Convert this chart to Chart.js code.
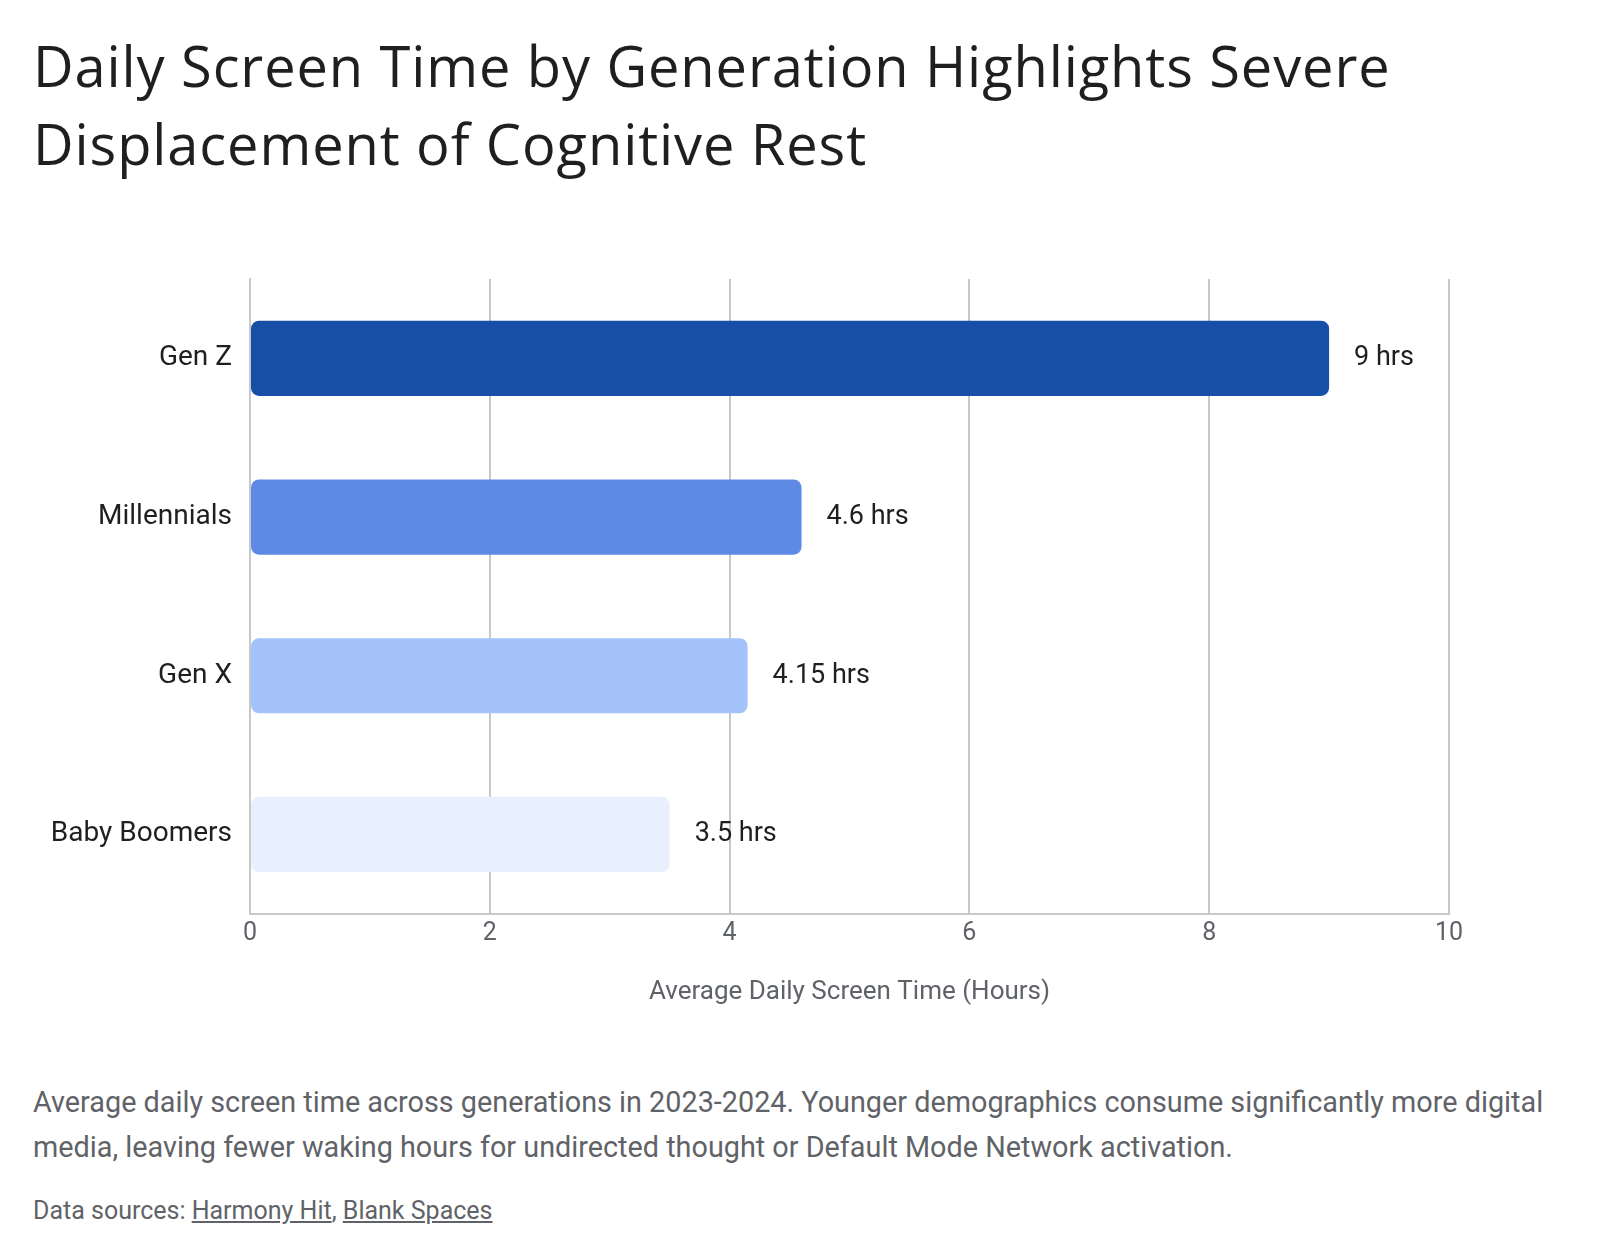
<!DOCTYPE html>
<html lang="en">
<head>
    <meta charset="UTF-8">
    <title>Daily Screen Time by Generation</title>
    <script src="https://cdn.jsdelivr.net/npm/chart.js"></script>
    <style>
        html, body { margin: 0; padding: 0; background: #fff; }
        body { width: 1600px; height: 1258px; position: relative; font-family: Roboto, "Noto Sans", sans-serif; }
        .title {
            position: absolute; left: 33px; top: 26px; margin: 0;
            font-family: "Open Sans", Roboto, sans-serif;
            font-size: 56px; line-height: 78px; font-weight: 400; letter-spacing: 0.9px; color: #1f1f1f;
        }
        .chart-box { position: absolute; left: 0; top: 240px; width: 1600px; height: 768px; }
        .caption {
            position: absolute; left: 33px; top: 1080px; width: 1560px; margin: 0;
            font-size: 28.8px; line-height: 45px; color: #5f6368;
        }
        .sources {
            position: absolute; left: 33px; top: 1195px; margin: 0;
            font-size: 25px; line-height: 32px; color: #5f6368;
        }
        .sources a { color: #5f6368; text-decoration: underline; }
    </style>
</head>
<body>
    <h1 class="title">Daily Screen Time by Generation Highlights Severe<br>Displacement of Cognitive Rest</h1>

    <div class="chart-box">
        <canvas id="screenChart"></canvas>
    </div>

    <p class="caption">Average daily screen time across generations in 2023-2024. Younger demographics consume significantly more digital<br>media, leaving fewer waking hours for undirected thought or Default Mode Network activation.</p>
    <p class="sources">Data sources: <a href="#">Harmony Hit</a>, <a href="#">Blank Spaces</a></p>

    <script>
        // chart data
        var generations = ['Gen Z', 'Millennials', 'Gen X', 'Baby Boomers'];
        var hours = [9, 4.6, 4.15, 3.5];
        var barColors = ['#174ea6', '#5e8ae6', '#a3c3fa', '#e8f0fe'];
        var xTicks = [0, 2, 4, 6, 8, 10];

        // value labels to the right of each bar
        var barLabels = {
            id: 'barLabels',
            afterDatasetsDraw: function (chart) {
                var ctx = chart.ctx;
                var meta = chart.getDatasetMeta(0);
                ctx.save();
                ctx.font = '27px Roboto';
                ctx.fillStyle = '#1f1f1f';
                ctx.textBaseline = 'middle';
                ctx.textAlign = 'left';
                meta.data.forEach(function (bar, i) {
                    ctx.fillText(hours[i] + ' hrs', bar.x + 25, bar.y);
                });
                ctx.restore();
            }
        };

        var ctx = document.getElementById('screenChart').getContext('2d');
        var screenChart = new Chart(ctx, {
            type: 'bar',
            data: {
                labels: generations,
                datasets: [{
                    data: hours,
                    backgroundColor: barColors,
                    borderRadius: 8,
                    borderSkipped: false,
                    barPercentage: 0.474,
                    categoryPercentage: 1
                }]
            },
            options: {
                indexAxis: 'y',
                responsive: true,
                maintainAspectRatio: false,
                animation: false,
                layout: { padding: { top: 39, right: 151, bottom: 0, left: 0 } },
                plugins: {
                    legend: { display: false },
                    tooltip: { enabled: false }
                },
                scales: {
                    x: {
                        min: 0,
                        max: 10,
                        afterBuildTicks: function (scale) {
                            scale.ticks = xTicks.map(function (v) { return { value: v }; });
                        },
                        grid: { color: '#c8c8c8', lineWidth: 2, drawTicks: false },
                        border: { color: '#c8c8c8', width: 2 },
                        ticks: { padding: 5, color: '#5f6368', font: { family: 'Roboto', size: 25 } },
                        title: {
                            display: true,
                            text: 'Average Daily Screen Time (Hours)',
                            color: '#5f6368',
                            font: { family: 'Roboto', size: 26 },
                            padding: { top: 23, bottom: 0 }
                        }
                    },
                    y: {
                        afterFit: function (scale) { scale.width = 250; },
                        grid: { display: false, drawTicks: false },
                        border: { color: '#c8c8c8', width: 2 },
                        ticks: { padding: 18, color: '#1f1f1f', font: { family: 'Roboto', size: 28 } }
                    }
                }
            },
            plugins: [barLabels]
        });
    </script>
</body>
</html>
